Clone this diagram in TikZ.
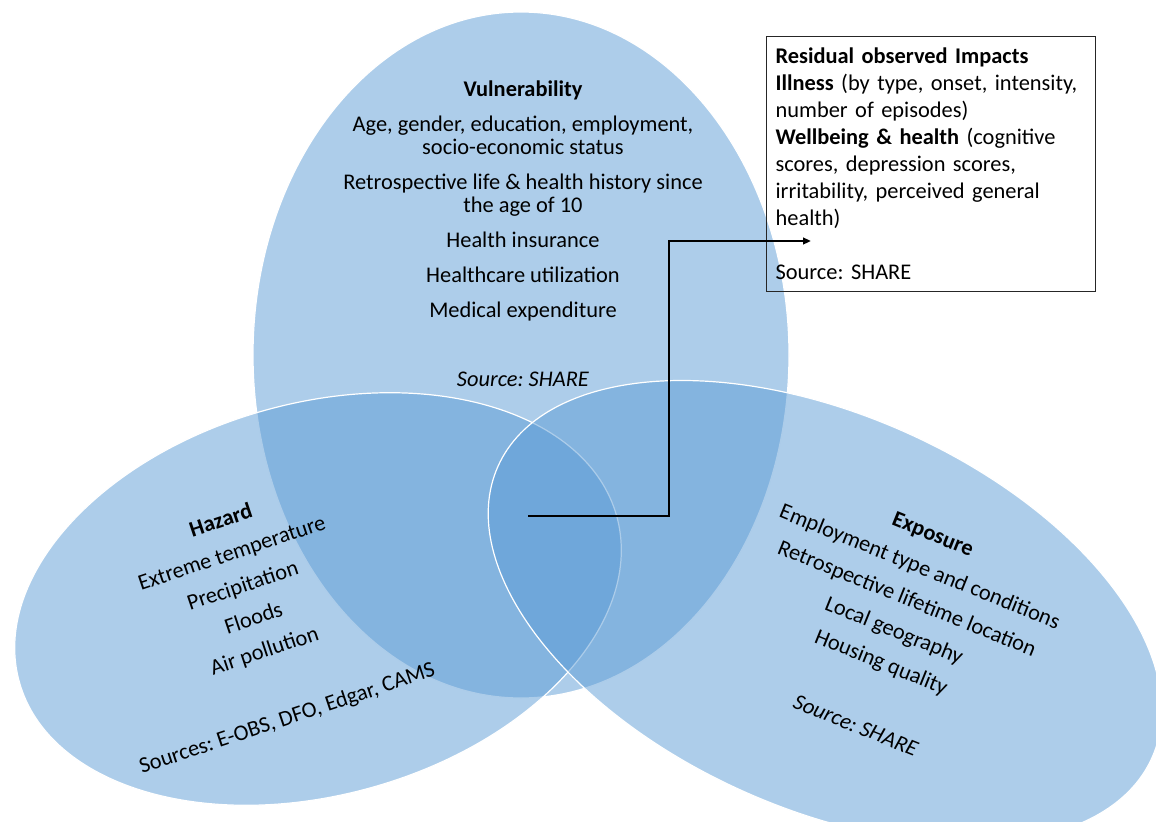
\documentclass[tikz,border=0pt]{standalone}
\usepackage{fontspec}
\setmainfont{Carlito}
\usepackage{tikz}
\usetikzlibrary{arrows.meta,positioning}

\definecolor{setblue}{HTML}{5B9BD5}
\frenchspacing

\begin{document}
\begin{tikzpicture}[x=0.75pt, y=-0.75pt,
    set/.style={fill=setblue, fill opacity=0.5, draw=white, line width=0.9pt},
    lbl/.style={align=center, inner sep=0pt, font=\fontsize{16.8}{17.25}\selectfont},
    impact/.style={draw=black!85, line width=0.9pt, align=left, anchor=north west,
        text width=233pt, inner xsep=6.75pt, inner ysep=0pt, minimum height=191.25pt,
        font=\fontsize{16.8}{20.25}\selectfont},
    arr/.style={-{Triangle[length=6pt, width=5pt]}, line width=2.2pt}
]
\useasboundingbox (0,0) rectangle (1156,821);
\clip (0,0) rectangle (1156,821);

\draw[set] (521,355) ellipse [x radius=268, y radius=343];
\draw[set, rotate around={15.5:(318,599)}] (318,599) ellipse [x radius=310, y radius=196];
\draw[set, rotate around={-24:(825,612)}] (825,612) ellipse [x radius=358, y radius=197];

\node[lbl, anchor=north] (vuln) at (523,80.5) {\textbf{Vulnerability}\\[9pt]
    Age, gender, education, employment,\\ socio-economic status\\[9pt]
    Retrospective life \& health history since\\ the age of 10\\[9pt]
    Health insurance\\[9pt]
    Healthcare utilization\\[9pt]
    Medical expenditure\\[34.5pt]
    \textit{Source: SHARE}};

\node[lbl, anchor=north, rotate=18.5] (hazard) at (218,512) {\textbf{Hazard}\\[8.5pt]
    Extreme temperature\\[8.5pt]
    Precipitation\\[8.5pt]
    Floods\\[8.5pt]
    Air pollution\\[36pt]
    Sources: E-OBS, DFO, Edgar, CAMS};

\node[lbl, anchor=north, rotate=-22] (expo) at (936,527) {\textbf{Exposure}\\[9pt]
    Employment type and conditions\\[8.5pt]
    Retrospective lifetime location\\[8.5pt]
    Local geography\\[8.5pt]
    Housing quality\\[34pt]
    \textit{Source: SHARE}};

\node[impact] (impacts) at (766,36) {\textbf{Residual observed Impacts}\\
    \textbf{Illness} (by type, onset, intensity,\\
    number of episodes)\\
    \textbf{Wellbeing \& health} (cognitive\\
    scores, depression scores,\\
    irritability, perceived general\\
    health)\\[20.25pt]
    Source: SHARE};

\coordinate (core) at (528,516);
\coordinate (tip) at (811,241);
\draw[arr] (core) -- ++(141,0) |- (tip);
\end{tikzpicture}
\end{document}
